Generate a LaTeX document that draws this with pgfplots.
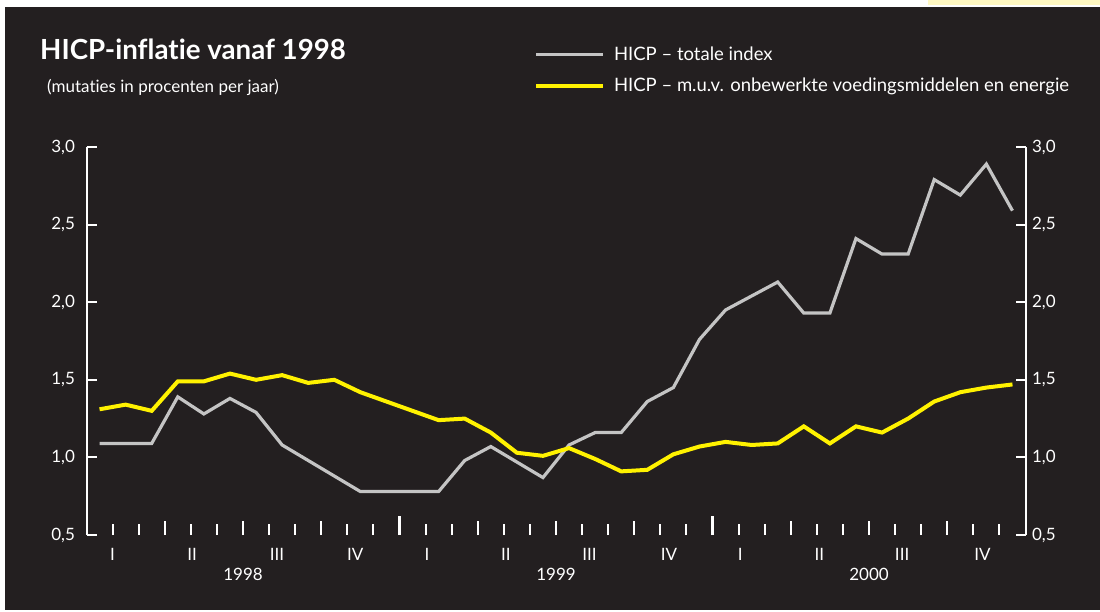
\documentclass[border=0pt]{standalone}
\usepackage{pgfplots}
\pgfplotsset{compat=1.18}
\usepackage{fontspec}
\setmainfont{Lato}[Ligatures={CommonOff,RareOff}]
\definecolor{bg}{HTML}{231F20}
\definecolor{hgray}{HTML}{C4C4C4}
\definecolor{hyellow}{HTML}{FFF200}
\definecolor{pale}{HTML}{FFF8C2}

\pgfplotstableread{
x     tot   core
0.5   1.09  1.31
1.5   1.09  1.34
2.5   1.09  1.30
3.5   1.39  1.49
4.5   1.28  1.49
5.5   1.38  1.54
6.5   1.29  1.50
7.5   1.08  1.53
8.5   0.98  1.48
9.5   0.88  1.50
10.5  0.78  1.42
11.5  0.78  1.36
12.5  0.78  1.30
13.5  0.78  1.24
14.5  0.98  1.25
15.5  1.07  1.16
16.5  0.97  1.03
17.5  0.87  1.01
18.5  1.08  1.06
19.5  1.16  0.99
20.5  1.16  0.91
21.5  1.36  0.92
22.5  1.45  1.02
23.5  1.76  1.07
24.5  1.95  1.10
25.5  2.04  1.08
26.5  2.13  1.09
27.5  1.93  1.20
28.5  1.93  1.09
29.5  2.41  1.20
30.5  2.31  1.16
31.5  2.31  1.25
32.5  2.79  1.36
33.5  2.69  1.42
34.5  2.89  1.45
35.5  2.59  1.47
}\datatable

\pgfplotsset{
  base/.style={scale only axis, width=939pt, height=388pt,
    at={(86.5pt,76pt)}, anchor=south west,
    xmin=0, xmax=36, ymin=0.5, ymax=3.0, clip=false,
    ticklabel style={text=white, font=\fontsize{17}{20}\selectfont},
    /pgf/number format/assume math mode=true},
  xonly/.style={base, axis y line=none, axis x line*=bottom,
    x axis line style={draw=none}, xtick align=inside, ytick=\empty},
  yonly/.style={base, axis x line=none, xtick=\empty,
    y axis line style={draw=white, line width=2pt},
    ytick={0.5,1,1.5,2,2.5,3}, major tick length=10pt,
    major tick style={draw=white, line width=2pt},
    yticklabel style={/pgf/number format/use comma, /pgf/number format/fixed,
      /pgf/number format/fixed zerofill, /pgf/number format/precision=1}},
}

\begin{document}
\begin{tikzpicture}
\fill[white] (0pt,0pt) rectangle (1100pt,611pt);
\fill[bg] (5pt,1pt) rectangle (1100pt,604pt);
\fill[pale] (928pt,606pt) rectangle (1100pt,611pt);

\node[anchor=base west, inner sep=0pt, text=white, font=\bfseries\fontsize{27.7}{31}\selectfont] at (40pt,551pt) {HICP-inflatie vanaf 1998};
\node[anchor=base west, inner sep=0pt, text=white, font=\fontsize{17}{20}\selectfont] at (47pt,518pt) {(mutaties in procenten per jaar)};

% quarter ticks
\begin{axis}[xonly, xtick={3,6,9,15,18,21,27,30,33}, xticklabels={},
  xticklabel style={opacity=0},
  major tick length=14pt, major tick style={draw=white, line width=2.2pt}]
\end{axis}

% quarter + year labels
\begin{axis}[xonly, xtick={1.0,4.05,7.3,10.3,13.05,16.08,19.28,22.33,25.06,28.1,31.27,34.35},
  xticklabels={I,II,III,IV,I,II,III,IV,I,II,III,IV},
  major tick length=0pt,
  xticklabel style={yshift=-10pt},
  extra x ticks={6,18,30}, extra x tick labels={1998,1999,2000},
  extra x tick style={tick label style={yshift=-20pt}}]
\end{axis}

% left y axis
\begin{axis}[yonly, axis y line*=left, ytick align=inside,
  yticklabel style={xshift=-8pt}]
\end{axis}
% right y axis
\begin{axis}[yonly, axis y line*=right, ytick align=inside,
  yticklabel style={xshift=3pt}]
\end{axis}

% data + month and year ticks
\begin{axis}[xonly, xtick={12,24}, xticklabels={},
  xticklabel style={opacity=0},
  major tick length=19pt, major tick style={draw=white, line width=3pt},
  minor xtick={1,2,4,5,7,8,10,11,13,14,16,17,19,20,22,23,25,26,28,29,31,32,34,35},
  minor tick length=11pt, minor tick style={draw=white, line width=2pt},
  legend style={at={(0.4766,1.198)}, anchor=west, draw=none, fill=none,
    inner sep=0pt, outer sep=0pt,
    text=white, font=\fontsize{18.5}{22}\selectfont, row sep=12pt,
    /tikz/every odd column/.append style={column sep=7pt}},
  legend cell align=left,
  legend image code/.code={\draw[#1] (0pt,0pt) -- (67pt,0pt);}]
\addplot[hgray, line width=3.2pt] table[x=x, y=tot] {\datatable};
\addlegendentry{HICP – totale index}
\addplot[hyellow, line width=4pt] table[x=x, y=core] {\datatable};
\addlegendentry{HICP – m.u.v. onbewerkte voedingsmiddelen en energie}
\end{axis}
\end{tikzpicture}
\end{document}
